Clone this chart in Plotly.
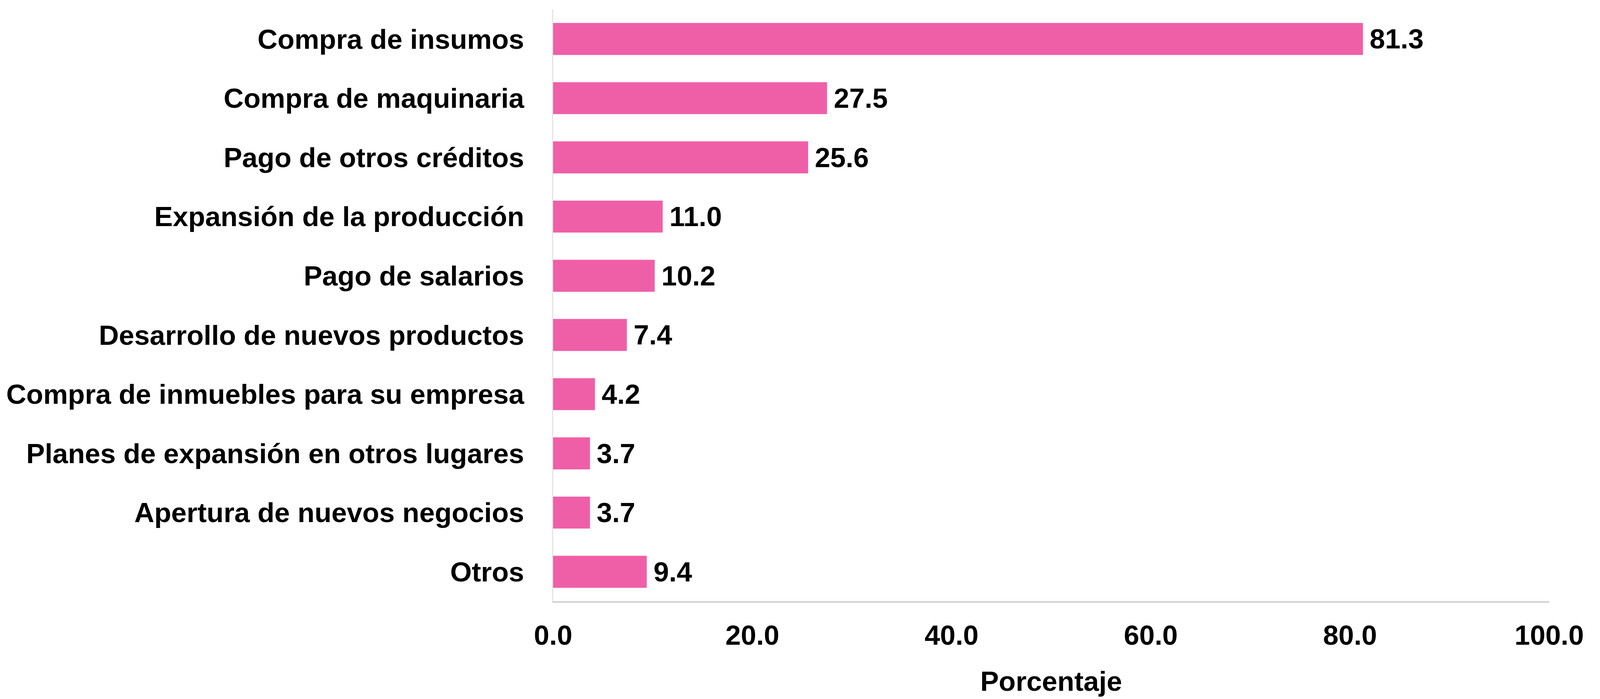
import plotly.graph_objects as go

categorias = [
    "Compra de insumos",
    "Compra de maquinaria",
    "Pago de otros créditos",
    "Expansión de la producción",
    "Pago de salarios",
    "Desarrollo de nuevos productos",
    "Compra de inmuebles para su empresa",
    "Planes de expansión en otros lugares",
    "Apertura de nuevos negocios",
    "Otros",
]
porcentajes = [81.3, 27.5, 25.6, 11.0, 10.2, 7.4, 4.2, 3.7, 3.7, 9.4]
x_ticks = [0, 20, 40, 60, 80, 100]
x_ticklabels = ["0.0", "20.0", "40.0", "60.0", "80.0", "100.0"]

# The browser viewport is 4096 px wide; keep the reference's horizontal
# proportions (4644 px wide) by scaling horizontal distances.
W, H = 4096, 1790
sx = W / 4644.0

FONT = "Liberation Sans, Arial, sans-serif"
BOLD = dict(family=FONT, size=71, color="black", weight="bold")

fig = go.Figure(
    go.Bar(
        y=categorias,
        x=porcentajes,
        orientation="h",
        marker=dict(color="#EF5FA7", line=dict(width=0)),
        width=0.54,
        text=porcentajes,
        texttemplate="\u2009%{x:.1f}",
        textposition="outside",
        textfont=BOLD,
        cliponaxis=False,
    )
)

fig.update_layout(
    width=W,
    height=H,
    autosize=False,
    paper_bgcolor="white",
    plot_bgcolor="white",
    margin=dict(l=round(1596 * sx), r=round(156 * sx), t=16, b=258, autoexpand=False),
    showlegend=False,
    font=BOLD,
)

fig.update_xaxes(
    range=[0, 100],
    tickvals=x_ticks,
    ticktext=x_ticklabels,
    showgrid=False,
    zeroline=False,
    showline=True,
    linecolor="#C4C4C4",
    linewidth=3,
    ticks="",
    tickfont=BOLD,
    ticklabelstandoff=23,
    title=dict(text="Porcentaje", font=BOLD, standoff=55),
)

fig.update_yaxes(
    categoryorder="array",
    categoryarray=categorias,
    autorange="reversed",
    showgrid=False,
    zeroline=False,
    showline=True,
    linecolor="#D9D9D9",
    linewidth=2,
    ticks="",
    tickfont=BOLD,
    ticklabelstandoff=round(66 * sx),
)

fig.write_html("out.html")
